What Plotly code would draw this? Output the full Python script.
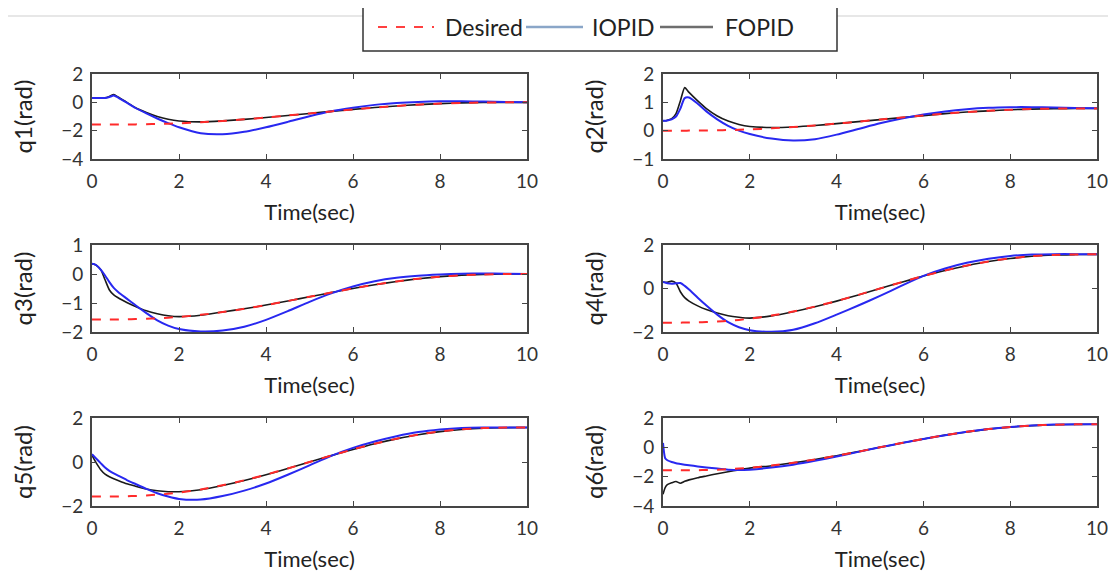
import plotly.graph_objects as go
from plotly.subplots import make_subplots

# ---------------- data ----------------
T = [0, 0.05, 0.1, 0.2, 0.3, 0.4, 0.5, 0.6, 0.8, 1.0, 1.25, 1.5, 1.75, 2.0, 2.5,
     3.0, 3.5, 4.0, 4.5, 5.0, 5.5, 6.0, 6.5, 7.0, 7.5, 8.0, 8.5, 9.0, 9.5, 10.0]

q1_desired = [-1.57, -1.57, -1.57, -1.57, -1.57, -1.57, -1.57, -1.567, -1.563, -1.556, -1.545, -1.528, -1.506, -1.479, -1.408,
              -1.314, -1.201, -1.072, -0.931, -0.785, -0.639, -0.498, -0.369, -0.256, -0.163, -0.091, -0.042, -0.014, -0.002, 0.0]
q1_iopid = [0.3, 0.3, 0.3, 0.3, 0.31, 0.38, 0.48, 0.34, -0.02, -0.4, -0.78, -1.14, -1.47, -1.76, -2.18,
            -2.25, -2.08, -1.76, -1.38, -0.98, -0.63, -0.38, -0.18, -0.05, 0.03, 0.07, 0.08, 0.05, 0.02, 0.0]
q1_fopid = [0.3, 0.3, 0.3, 0.3, 0.32, 0.42, 0.55, 0.38, 0.0, -0.38, -0.72, -1.0, -1.2, -1.32, -1.38,
            -1.31, -1.2, -1.07, -0.93, -0.785, -0.64, -0.5, -0.37, -0.26, -0.165, -0.09, -0.04, -0.015, 0.0, 0.0]

q2_desired = [0, 0, 0, 0, 0, 0, 0, 0.002, 0.004, 0.007, 0.013, 0.021, 0.032, 0.045, 0.081,
              0.128, 0.185, 0.249, 0.319, 0.393, 0.466, 0.536, 0.6, 0.657, 0.704, 0.739, 0.764, 0.778, 0.784, 0.785]
q2_iopid = [0.35, 0.35, 0.36, 0.4, 0.5, 0.78, 1.15, 1.17, 0.95, 0.68, 0.4, 0.17, 0.0, -0.12, -0.28,
            -0.35, -0.3, -0.14, 0.06, 0.26, 0.43, 0.57, 0.68, 0.76, 0.81, 0.83, 0.83, 0.82, 0.8, 0.79]
q2_fopid = [0.35, 0.35, 0.37, 0.42, 0.6, 1.05, 1.52, 1.35, 1.05, 0.78, 0.52, 0.34, 0.22, 0.15, 0.11,
            0.13, 0.18, 0.25, 0.32, 0.39, 0.46, 0.53, 0.6, 0.66, 0.7, 0.74, 0.76, 0.775, 0.78, 0.785]

q3_desired = [-1.57, -1.57, -1.57, -1.57, -1.57, -1.57, -1.57, -1.567, -1.563, -1.556, -1.545, -1.528, -1.506, -1.479, -1.408,
              -1.314, -1.201, -1.072, -0.931, -0.785, -0.639, -0.498, -0.369, -0.256, -0.163, -0.091, -0.042, -0.014, -0.002, 0.0]
q3_iopid = [0.35, 0.34, 0.3, 0.15, -0.05, -0.28, -0.48, -0.62, -0.85, -1.08, -1.35, -1.6, -1.78, -1.9, -1.98,
            -1.95, -1.82, -1.58, -1.28, -0.96, -0.67, -0.43, -0.25, -0.13, -0.06, -0.02, 0.01, 0.02, 0.01, 0.0]
q3_fopid = [0.35, 0.34, 0.3, 0.15, -0.2, -0.55, -0.72, -0.82, -0.98, -1.12, -1.27, -1.37, -1.44, -1.47, -1.42,
            -1.31, -1.2, -1.07, -0.93, -0.785, -0.64, -0.5, -0.37, -0.26, -0.165, -0.09, -0.04, -0.015, 0.0, 0.0]

q4_desired = [-1.57, -1.57, -1.57, -1.57, -1.57, -1.57, -1.566, -1.564, -1.556, -1.543, -1.52, -1.486, -1.443, -1.388, -1.245,
              -1.058, -0.831, -0.575, -0.292, 0.0, 0.292, 0.575, 0.831, 1.058, 1.245, 1.388, 1.487, 1.543, 1.566, 1.57]
q4_iopid = [0.3, 0.27, 0.24, 0.22, 0.24, 0.25, 0.12, -0.05, -0.42, -0.78, -1.2, -1.55, -1.78, -1.92, -1.99,
            -1.9, -1.6, -1.2, -0.78, -0.34, 0.13, 0.58, 0.92, 1.18, 1.37, 1.5, 1.56, 1.58, 1.58, 1.57]
q4_fopid = [0.3, 0.29, 0.28, 0.34, 0.25, -0.15, -0.42, -0.58, -0.8, -0.97, -1.13, -1.25, -1.32, -1.36, -1.26,
            -1.07, -0.84, -0.58, -0.3, 0.0, 0.29, 0.57, 0.83, 1.05, 1.24, 1.38, 1.48, 1.54, 1.56, 1.57]

q5_desired = [-1.57, -1.57, -1.57, -1.57, -1.57, -1.57, -1.566, -1.564, -1.556, -1.543, -1.52, -1.486, -1.443, -1.388, -1.245,
              -1.058, -0.831, -0.575, -0.292, 0.0, 0.292, 0.575, 0.831, 1.058, 1.245, 1.388, 1.487, 1.543, 1.566, 1.57]
q5_iopid = [0.35, 0.25, 0.15, -0.05, -0.25, -0.4, -0.52, -0.62, -0.82, -1.0, -1.22, -1.42, -1.57, -1.68, -1.71,
            -1.55, -1.3, -0.98, -0.58, -0.15, 0.28, 0.64, 0.93, 1.17, 1.36, 1.48, 1.55, 1.57, 1.57, 1.57]
q5_fopid = [0.3, 0.12, -0.05, -0.35, -0.55, -0.67, -0.76, -0.84, -0.99, -1.1, -1.23, -1.31, -1.35, -1.35, -1.26,
            -1.07, -0.84, -0.58, -0.3, 0.0, 0.29, 0.57, 0.83, 1.05, 1.24, 1.38, 1.48, 1.54, 1.56, 1.57]

q6_desired = [-1.57, -1.57, -1.57, -1.57, -1.57, -1.57, -1.566, -1.564, -1.556, -1.543, -1.52, -1.486, -1.443, -1.388, -1.245,
              -1.058, -0.831, -0.575, -0.292, 0.0, 0.292, 0.575, 0.831, 1.058, 1.245, 1.388, 1.487, 1.543, 1.566, 1.57]
q6_iopid = [0.3, -0.75, -0.88, -1.0, -1.08, -1.13, -1.18, -1.22, -1.3, -1.37, -1.45, -1.52, -1.55, -1.52, -1.38,
            -1.18, -0.92, -0.62, -0.31, 0.0, 0.29, 0.57, 0.83, 1.06, 1.25, 1.39, 1.49, 1.55, 1.57, 1.57]
q6_fopid = [-3.2, -2.75, -2.55, -2.42, -2.33, -2.45, -2.32, -2.22, -2.07, -1.95, -1.8, -1.66, -1.54, -1.42, -1.25,
            -1.06, -0.83, -0.57, -0.29, 0.0, 0.29, 0.57, 0.83, 1.05, 1.24, 1.38, 1.48, 1.54, 1.56, 1.57]

y_labels = ["q1(rad)", "q2(rad)", "q3(rad)", "q4(rad)", "q5(rad)", "q6(rad)"]
y_ranges = [[-4, 2], [-1, 2], [-2, 1], [-2, 2], [-2, 2], [-4, 2]]
y_dticks = [2, 1, 1, 2, 2, 2]
x_ticks = [0, 2, 4, 6, 8, 10]
series_names = ["Desired", "IOPID", "FOPID"]

joints = [
    (q1_desired, q1_iopid, q1_fopid),
    (q2_desired, q2_iopid, q2_fopid),
    (q3_desired, q3_iopid, q3_fopid),
    (q4_desired, q4_iopid, q4_fopid),
    (q5_desired, q5_iopid, q5_fopid),
    (q6_desired, q6_iopid, q6_fopid),
]

# ---------------- figure ----------------
# the page body adds an 8 px margin, so the figure is 8 px smaller and
# reference pixel positions are shifted by 8 px
OFF = 8
W, H = 1116 - OFF, 577 - OFF
FONT = "Lato"
fig = make_subplots(rows=3, cols=2)


def px_x(p):
    return (p - OFF) / W


def px_y(p):
    return 1 - (p - OFF) / H


col_px = [(92, 527), (663, 1097)]
row_px = [(74, 159), (245, 332), (418, 506)]

for i, (des, iop, fop) in enumerate(joints):
    r, c = i // 2 + 1, i % 2 + 1
    fig.add_trace(go.Scatter(x=T, y=fop, mode="lines", name=series_names[2], showlegend=False,
                             line=dict(color="#1a1a1a", width=1.6, shape="spline", smoothing=0.6)),
                  row=r, col=c)
    fig.add_trace(go.Scatter(x=T, y=iop, mode="lines", name=series_names[1], showlegend=False,
                             line=dict(color="#2828f0", width=2, shape="spline", smoothing=0.6)),
                  row=r, col=c)
    fig.add_trace(go.Scatter(x=T, y=des, mode="lines", name=series_names[0], showlegend=False,
                             line=dict(color="#ff2a2a", width=2, dash="dash", shape="spline", smoothing=0.6)),
                  row=r, col=c)

    top, bot = row_px[r - 1]
    left, right = col_px[c - 1]
    axis_common = dict(showline=True, linecolor="#454545", linewidth=1.6, mirror="ticks",
                       ticks="inside", ticklen=5, tickcolor="#454545", tickwidth=1.2,
                       showgrid=False, zeroline=False, automargin=False,
                       tickfont=dict(family=FONT, size=19, color="#333333"))
    fig.update_xaxes(domain=[px_x(left), px_x(right)], range=[0, 10], tickvals=x_ticks,
                     ticklabelstandoff=4,
                     title=dict(text="Time(sec)", standoff=14,
                                font=dict(family=FONT, size=22, color="#222222")),
                     **axis_common, row=r, col=c)
    fig.update_yaxes(domain=[px_y(bot), px_y(top)], range=y_ranges[i], dtick=y_dticks[i],
                     ticklabelstandoff=3,
                     title=dict(text=y_labels[i], standoff=22,
                                font=dict(family=FONT, size=24, color="#222222")),
                     **axis_common, row=r, col=c)

# thin grey rule behind the legend
fig.add_shape(type="line", xref="paper", yref="paper", x0=0, x1=1,
              y0=px_y(16), y1=px_y(16), line=dict(color="#cfcfcf", width=1), layer="below")

# legend box (drawn by hand so the sample lengths match the reference)
fig.add_shape(type="rect", xref="paper", yref="paper", x0=px_x(363), x1=px_x(837),
              y0=px_y(51), y1=px_y(3), line=dict(color="#333333", width=1.5),
              fillcolor="white", layer="above")
legend_samples = [(378, 434, dict(color="#ff4040", width=2, dash="dash")),
                  (526, 583, dict(color="#8aa6c8", width=2.5)),
                  (660, 713, dict(color="#6e6e6e", width=2.5))]
legend_text_x = [443, 590, 723]
for (xa, xb, ln), tx, name in zip(legend_samples, legend_text_x, series_names):
    fig.add_shape(type="line", xref="paper", yref="paper", x0=px_x(xa), x1=px_x(xb),
                  y0=px_y(27), y1=px_y(27), line=ln, layer="above")
    fig.add_annotation(x=px_x(tx), y=px_y(27), xref="paper", yref="paper", text=name,
                       showarrow=False, xanchor="left", yanchor="middle",
                       font=dict(family=FONT, size=23, color="#222222"))

fig.update_layout(
    width=W, height=H,
    margin=dict(l=0, r=0, t=0, b=0, autoexpand=False),
    paper_bgcolor="white", plot_bgcolor="white",
    font=dict(family=FONT, color="#222222"),
    showlegend=False,
)

fig.write_html("out.html")
